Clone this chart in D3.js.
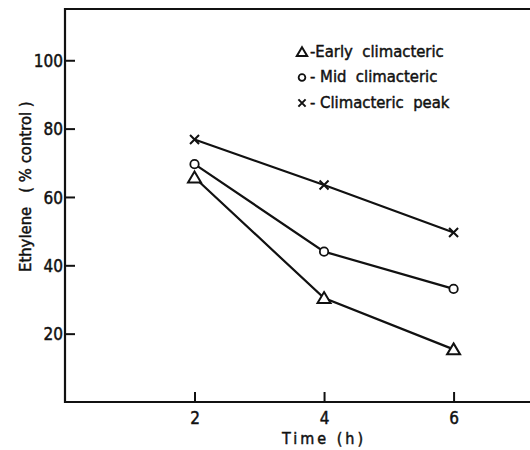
<!DOCTYPE html>
<html>
<head>
<meta charset="utf-8">
<script src="https://cdn.jsdelivr.net/npm/d3@7"></script>
<style>
  body { margin: 0; background: #fff; }
  svg text { font-family: "DejaVu Sans Condensed", "DejaVu Sans", sans-serif; fill: #111; stroke: #111; stroke-width: 0.45; white-space: pre; }
</style>
</head>
<body>
<svg id="chart"></svg>
<script>
// data
var times = [2, 4, 6];
var early = [65.7, 30.4, 15.4];
var mid = [69.6, 44.0, 33.1];
var peak = [76.8, 63.5, 49.6];
var yTicks = [20, 40, 60, 80, 100];
var legendLabels = ["-Early  climacteric", "- Mid  climacteric", "- Climacteric  peak"];

var svgwidth = 530, svgheight = 450;
var margins = { top: 9, bottom: 48, left: 65, right: 0 };

var svg = d3.select("#chart").attr("width", svgwidth).attr("height", svgheight);

var width = svgwidth - margins.left - margins.right;
var height = svgheight - margins.top - margins.bottom;

var xScale = d3.scaleLinear().domain([0, 7.18]).range([0, width]);
var yScale = d3.scaleLinear().domain([0, 115]).range([height, 0]);

var plot = svg.append("g")
  .attr("transform", "translate(" + margins.left + "," + margins.top + ")");

// frame: left, top, bottom
plot.append("path")
  .attr("d", "M" + (width + 2) + ",0H0V" + height + "H" + (width + 2))
  .attr("fill", "none").attr("stroke", "#111").attr("stroke-width", 2.2);

// y axis, ticks pointing inwards
var yAxis = d3.axisLeft(yScale).tickValues(yTicks).tickSize(-10).tickPadding(3);
var gy = plot.append("g").call(yAxis);
gy.select(".domain").remove();
gy.selectAll("line").attr("stroke", "#111").attr("stroke-width", 2);
gy.selectAll("text").attr("font-size", 17).attr("x", -2).attr("dy", "0.36em");

// x axis, ticks pointing up
var xAxis = d3.axisBottom(xScale).tickValues(times).tickSize(-10).tickPadding(8);
var gx = plot.append("g").attr("transform", "translate(0," + height + ")").call(xAxis);
gx.select(".domain").remove();
gx.selectAll("line").attr("stroke", "#111").attr("stroke-width", 2);
gx.selectAll("text").attr("font-size", 17).attr("y", 10).attr("dy", "0.71em");

// axis titles
svg.append("text")
  .attr("transform", "translate(31," + (margins.top + yScale(63)) + ") rotate(-90)")
  .attr("text-anchor", "middle")
  .attr("font-size", 16.5)
  .text("Ethylene   ( % control )");

svg.append("text")
  .attr("x", margins.left + xScale(4))
  .attr("y", 444)
  .attr("text-anchor", "middle")
  .attr("font-size", 16)
  .attr("letter-spacing", 3)
  .text("Time (h)");

var series = [
  { name: "early", values: early, sym: "triangle" },
  { name: "mid", values: mid, sym: "circle" },
  { name: "peak", values: peak, sym: "cross" }
];

var line = d3.line()
  .x(function(d, i) { return xScale(times[i]); })
  .y(function(d) { return yScale(d); });

plot.selectAll(".series")
  .data(series)
  .enter()
  .append("path")
  .attr("d", function(d) { return line(d.values); })
  .attr("fill", "none")
  .attr("stroke", "#111")
  .attr("stroke-width", 2.2);

function drawSymbol(g, sym, x, y, k) {
  if (sym === "triangle") {
    g.append("path")
      .attr("d", "M" + x + "," + (y - 6 * k) + "L" + (x + 6.5 * k) + "," + (y + 5 * k) + "L" + (x - 6.5 * k) + "," + (y + 5 * k) + "Z")
      .attr("fill", "#fff").attr("stroke", "#111").attr("stroke-width", 2);
  } else if (sym === "circle") {
    g.append("circle").attr("cx", x).attr("cy", y).attr("r", 4.2 * k)
      .attr("fill", "#fff").attr("stroke", "#111").attr("stroke-width", 1.8);
  } else {
    g.append("path")
      .attr("d", "M" + (x - 4.5 * k) + "," + (y - 4.5 * k) + "L" + (x + 4.5 * k) + "," + (y + 4.5 * k) + "M" + (x + 4.5 * k) + "," + (y - 4.5 * k) + "L" + (x - 4.5 * k) + "," + (y + 4.5 * k))
      .attr("stroke", "#111").attr("stroke-width", 2);
  }
}

series.forEach(function(s) {
  s.values.forEach(function(v, i) {
    drawSymbol(plot, s.sym, xScale(times[i]), yScale(v), 1);
  });
});

// legend
var legend = svg.append("g");
series.forEach(function(s, i) {
  var y = 51 + i * 25.5;
  drawSymbol(legend, s.sym, 302, y + 1, 0.8);
  legend.append("text")
    .attr("x", 310)
    .attr("y", y)
    .attr("dy", "0.36em")
    .attr("font-size", 16.5)
    .text(legendLabels[i]);
});
</script>
</body>
</html>
